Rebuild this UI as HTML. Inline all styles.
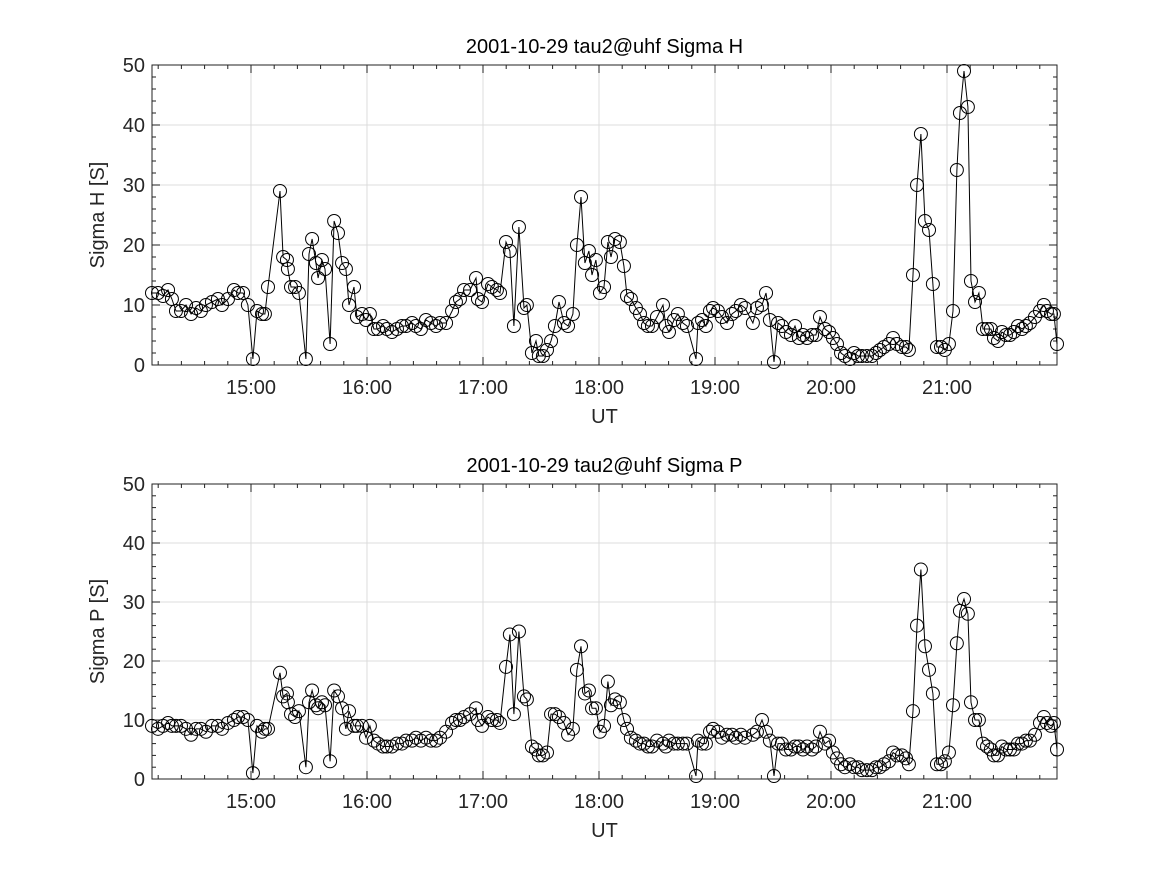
<!DOCTYPE html>
<html><head><meta charset="utf-8">
<style>
html,body{margin:0;padding:0;background:#fff;}
svg{display:block;font-family:"Liberation Sans","DejaVu Sans",sans-serif;}
</style></head>
<body>
<svg id="fig" width="1167" height="875" viewBox="0 0 1167 875" xmlns="http://www.w3.org/2000/svg"></svg>
<script>
const times = [8.8,11.9,14.5,17.1,19.1,21.2,23.8,26.4,29.0,31.6,
34.1,36.7,39.8,42.9,45.0,48.1,51.2,53.3,55.9,58.4,
61.0,63.1,65.7,67.2,68.8,75.0,76.6,78.6,79.1,80.7,
82.8,84.8,88.4,90.0,91.6,93.6,94.7,96.7,98.3,100.9,
103.0,105.0,107.1,109.1,110.7,113.3,114.8,117.4,119.5,121.5,
123.6,125.7,128.3,130.3,132.9,135.5,138.1,140.2,143.3,145.3,
147.9,150.5,153.1,155.7,157.8,160.9,164.0,166.0,168.1,170.2,
173.3,176.4,177.4,179.5,182.6,184.6,187.2,188.8,191.9,193.9,
196.0,198.6,201.2,202.7,205.3,207.4,208.9,211.0,213.1,215.2,
217.2,219.3,221.9,224.0,226.5,228.6,230.7,232.7,234.8,236.4,
238.4,240.5,242.6,244.6,246.2,248.3,250.8,252.9,254.5,256.5,
259.1,261.2,263.3,265.3,267.4,270.0,273.1,274.6,276.2,278.8,
280.8,283.4,285.5,290.2,291.2,293.3,295.3,297.4,299.0,301.5,
303.6,306.2,308.8,310.8,313.4,315.5,319.6,321.7,324.3,326.4,
328.4,330.5,332.6,334.6,336.7,339.3,341.4,343.4,345.5,347.6,
350.2,352.2,354.3,356.9,359.0,361.0,363.1,365.2,367.2,369.8,
371.9,374.0,376.0,378.6,381.2,383.3,385.3,387.4,390.0,392.1,
394.1,396.7,398.8,400.3,402.4,404.5,406.5,408.6,410.7,412.7,
414.8,416.9,418.9,421.0,423.1,425.1,426.7,428.8,430.8,432.4,
434.5,436.5,438.6,440.7,442.7,444.3,446.4,448.4,450.5,452.6,
454.6,456.7,458.8,460.8,462.9,465.5,468.1,470.1,471.7,473.8,
475.3,476.9];
const sigmaH = [12,12,11.5,12.5,11,9,9,10,8.5,9.5,
9,10,10.5,11,10,11,12.5,12,12,10,
1,9,8.5,8.5,13,29,18,17.5,16,13,
13,12,1,18.5,21,17,14.5,17.5,16,3.5,
24,22,17,16,10,13,8,8.5,7.5,8.5,
6,6,6.5,6,5.5,6,6.5,6.5,7,6.5,
6,7.5,7,6.5,7,7,9,10.5,11,12.5,
12.5,14.5,11,10.5,13.5,13,12.5,12,20.5,19,
6.5,23,9.5,10,2,4,1.5,1.5,2.5,4,
6.5,10.5,7,6.5,8.5,20,28,17,19,15,
17.5,12,13,20.5,18,21,20.5,16.5,11.5,11,
9.5,8.5,7,6.5,6.5,8,10,6.5,5.5,7.5,
8.5,7,6.5,1,7,7.5,6.5,9,9.5,9,
8,7,8.5,9,10,9.5,7,9.5,10,12,
7.5,0.5,7,6.5,5.5,5,6.5,4.5,5,4.5,
5,5,8,6,5.5,4.5,3.5,2,1.5,1,
2,1.5,1.5,1.5,1.5,2,2.5,3,3.5,4.5,
3.5,3,3,2.5,15,30,38.5,24,22.5,13.5,
3,3,2.5,3.5,9,32.5,42,49,43,14,
10.5,12,6,6,6,4.5,4,5.5,5,5,
5.5,6.5,6,6.5,7,8,9,10,9,8.5,
8.5,3.5];
const sigmaP = [9,8.5,9,9.5,9,9,9,8.5,7.5,8.5,
8.5,8,9,9,8.5,9.5,10,10.5,10.5,10,
1,9,8,8.5,8.5,18,14,14.5,13,11,
10.5,11.5,2,13,15,12.5,12,13,12.5,3,
15,14,12,8.5,11.5,9,9,9,7,9,
6.5,6,5.5,5.5,5.5,6,6,6.5,6.5,7,
6.5,7,6.5,6.5,7,8,9.5,10,10,10.5,
11,12,10,9,10.5,10,10,9.5,19,24.5,
11,25,14,13.5,5.5,5,4,4,4.5,11,
11,10.5,9.5,7.5,8.5,18.5,22.5,14.5,15,12,
12,8,9,16.5,12.5,13.5,13,10,8.5,7,
6.5,6,6,5.5,5.5,6.5,6,5.5,6.5,6,
6,6,6,0.5,6.5,6,6,8,8.5,8,
7,7.5,7.5,7,7.5,7,7.5,8,10,8,
6.5,0.5,6,6,5,5,5.5,5.5,5,5.5,
5,5.5,8,6,6.5,4.5,3.5,2.5,2,2.5,
2,2,1.5,1.5,1.5,2,2,2.5,3,4.5,
4,4,3.5,2.5,11.5,26,35.5,22.5,18.5,14.5,
2.5,2.5,3,4.5,12.5,23,28.5,30.5,28,13,
10,10,6,5.5,5,4,4,5.5,5,5,
5,6,6,6.5,6.5,7.5,9.5,10.5,9.5,9,
9.5,5];
const xTickMinutes = [60,120,180,240,300,360,420];
const xTickLabels = ["15:00","16:00","17:00","18:00","19:00","20:00","21:00"];
const yTicks = [0,10,20,30,40,50];

const NS="http://www.w3.org/2000/svg";
const svg=document.getElementById('fig');
function mk(tag,attrs,parent){const e=document.createElementNS(NS,tag);for(const k in attrs)e.setAttribute(k,attrs[k]);(parent||svg).appendChild(e);return e;}

const X0=152,X1=1057,T0=8.8,T1=476.9;
function xs(t){return X0+(t-T0)/(T1-T0)*(X1-X0);}

function panel(top,bottom,vals,title,ylabel,key){
  const g=mk('g',{});
  
  
  const ys=v=>bottom-(v/50)*(bottom-top);
  // grid
  xTickMinutes.forEach(m=>{const l=mk('line',{x1:xs(m),x2:xs(m),y1:top,y2:bottom,stroke:'#dcdcdc','stroke-width':1},g);
    });
  yTicks.forEach(v=>{const l=mk('line',{x1:X0,x2:X1,y1:ys(v),y2:ys(v),stroke:'#dcdcdc','stroke-width':1},g);
    });
  // minor ticks
  for(let m=12;m<=476;m+=12){const x=xs(m);
    mk('line',{x1:x,x2:x,y1:bottom,y2:bottom-4,stroke:'#222'},g);
    mk('line',{x1:x,x2:x,y1:top,y2:top+4,stroke:'#222'},g);}
  for(let v=0;v<=50;v+=2){const y=ys(v);
    mk('line',{x1:X0,x2:X0+4,y1:y,y2:y,stroke:'#222'},g);
    mk('line',{x1:X1,x2:X1-4,y1:y,y2:y,stroke:'#222'},g);}
  xTickMinutes.forEach(m=>{const x=xs(m);
    mk('line',{x1:x,x2:x,y1:bottom,y2:bottom-8,stroke:'#222'},g);
    mk('line',{x1:x,x2:x,y1:top,y2:top+8,stroke:'#222'},g);});
  yTicks.forEach(v=>{const y=ys(v);
    mk('line',{x1:X0,x2:X0+8,y1:y,y2:y,stroke:'#222'},g);
    mk('line',{x1:X1,x2:X1-8,y1:y,y2:y,stroke:'#222'},g);});
  // box
  const box=mk('rect',{x:X0,y:top,width:X1-X0,height:bottom-top,fill:'none',stroke:'#222','stroke-width':1},g);
  
  // tick labels
  xTickMinutes.forEach((m,i)=>{const t=mk('text',{x:xs(m),y:bottom+29,'text-anchor':'middle','font-size':20,fill:'#262626'},g);t.textContent=xTickLabels[i];
    });
  yTicks.forEach(v=>{const t=mk('text',{x:X0-7,y:ys(v)+7,'text-anchor':'end','font-size':20,fill:'#262626'},g);t.textContent=String(v);
    });
  const xt=mk('text',{x:(X0+X1)/2,y:bottom+58,'text-anchor':'middle','font-size':20,fill:'#262626'},g);xt.textContent='UT';
  
  const yt=mk('text',{x:0,y:0,transform:`translate(104 ${(top+bottom)/2}) rotate(-90)`,'text-anchor':'middle','font-size':20,fill:'#262626'},g);yt.textContent=ylabel;
  
  const tt=mk('text',{x:(X0+X1)/2,y:top-12,'text-anchor':'middle','font-size':20,fill:'#000'},g);tt.textContent=title;
  
  // line
  const pts=vals.map((v,i)=>xs(times[i]).toFixed(1)+','+ys(v).toFixed(1)).join(' ');
  const pl=mk('polyline',{points:pts,fill:'none',stroke:'#000','stroke-width':1},g);
  
  vals.forEach((v,i)=>{const c=mk('circle',{cx:xs(times[i]),cy:ys(v),r:6.5,fill:'none',stroke:'#000','stroke-width':1},g);
    
    });
}
panel(65,365,sigmaH,'2001-10-29  tau2@uhf Sigma H','Sigma H [S]','sigma-h');
panel(484,779,sigmaP,'2001-10-29  tau2@uhf Sigma P','Sigma P [S]','sigma-p');
</script>
</body></html>
